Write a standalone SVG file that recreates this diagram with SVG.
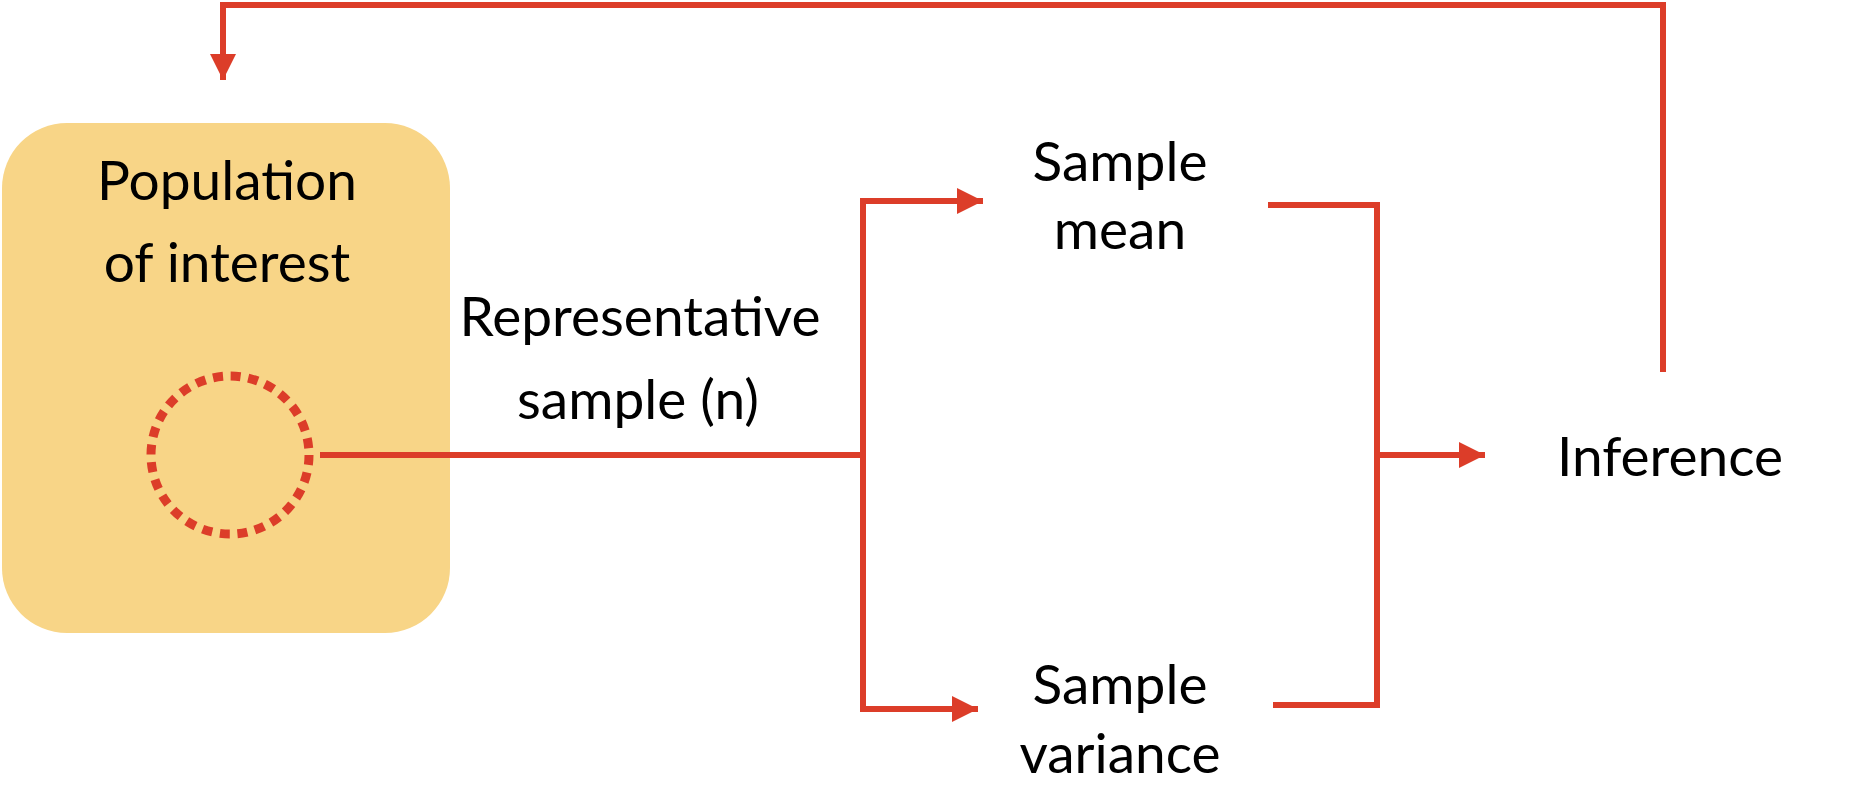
<svg xmlns="http://www.w3.org/2000/svg" width="1872" height="796" viewBox="0 0 1872 796">
  <style>
    .lbl { font-family: Lato, "Liberation Sans", sans-serif; font-size: 55px; fill: #000; text-anchor: middle; }
    .conn { fill: none; stroke: #DC3D29; stroke-width: 6; }
  </style>
  <defs>
    <marker id="arrow" viewBox="0 0 26 26" refX="26" refY="13" markerWidth="26" markerHeight="26" markerUnits="userSpaceOnUse" orient="auto">
      <path d="M0,0 L26,13 L0,26 Z" fill="#DC3D29"/>
    </marker>
  </defs>
  <rect width="1872" height="796" fill="#fff"/>

  <g id="population">
    <rect x="2" y="123" width="448" height="510" rx="65" ry="65" fill="#F8D587"/>
    <text class="lbl" x="227" y="200">Population</text>
    <text class="lbl" x="227" y="282">of interest</text>
    <circle cx="230" cy="455" r="79" fill="none" stroke="#DC3D29" stroke-width="9" stroke-dasharray="10 7.73"/>
  </g>

  <g id="sample-label">
    <text class="lbl" x="640" y="336">Representative</text>
    <text class="lbl" x="638" y="419">sample (n)</text>
  </g>

  <g id="sample-mean">
    <text class="lbl" x="1120" y="181">Sample</text>
    <text class="lbl" x="1120" y="249">mean</text>
  </g>

  <g id="sample-variance">
    <text class="lbl" x="1120" y="704">Sample</text>
    <text class="lbl" x="1120" y="773">variance</text>
  </g>

  <g id="inference">
    <text class="lbl" x="1670" y="476">Inference</text>
  </g>

  <g id="connectors">
    <path class="conn" d="M320,455 H863"/>
    <path class="conn" d="M863,455 V201 H983" marker-end="url(#arrow)"/>
    <path class="conn" d="M863,455 V709 H978" marker-end="url(#arrow)"/>
    <path class="conn" d="M1268,205 H1377 V455"/>
    <path class="conn" d="M1273,705 H1377 V455"/>
    <path class="conn" d="M1377,455 H1485" marker-end="url(#arrow)"/>
    <path class="conn" d="M1663,372 V5 H223 V80" marker-end="url(#arrow)"/>
  </g>
</svg>
